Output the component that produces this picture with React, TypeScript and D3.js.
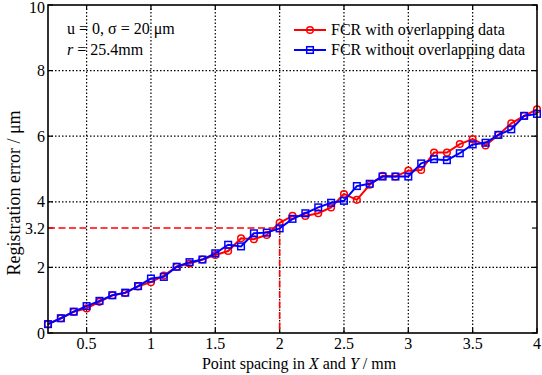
import React from "react";
import * as d3 from "d3";

const xValues = [0.2,0.3,0.4,0.5,0.6,0.7,0.8,0.9,1.0,1.1,1.2,1.3,1.4,1.5,1.6,1.7,1.8,1.9,2.0,2.1,2.2,2.3,2.4,2.5,2.6,2.7,2.8,2.9,3.0,3.1,3.2,3.3,3.4,3.5,3.6,3.7,3.8,3.9,4.0];
const redValues = [0.27,0.45,0.65,0.75,0.95,1.15,1.22,1.42,1.55,1.75,2.02,2.12,2.24,2.38,2.5,2.89,2.86,2.99,3.36,3.57,3.57,3.65,3.83,4.24,4.06,4.52,4.79,4.77,4.95,4.97,5.5,5.5,5.76,5.91,5.72,6.04,6.39,6.62,6.82];
const blueValues = [0.27,0.45,0.65,0.82,0.98,1.15,1.23,1.43,1.66,1.71,2.02,2.16,2.24,2.43,2.69,2.64,3.04,3.06,3.19,3.48,3.65,3.83,3.97,4.03,4.48,4.55,4.77,4.77,4.77,5.17,5.3,5.27,5.48,5.75,5.8,6.04,6.21,6.62,6.68];
const xTicks = [0.5,1,1.5,2,2.5,3,3.5,4];
const yTicks = [0,2,3.2,4,6,8,10];
const yGrid = [2,4,6,8];
const xGrid = [0.5,1,1.5,2,2.5,3,3.5];
const markX = 2;
const markY = 3.2;
const legendLabels = ["FCR with overlapping data", "FCR without overlapping data"];

const W = 542, H = 375;
const L = 48, R = 537, T = 5, B = 333;
const FONT = "'Liberation Serif', 'Times New Roman', serif";
const FS = 16;

export default function App() {
  const x = d3.scaleLinear().domain([0.2, 4]).range([L, R]);
  const y = d3.scaleLinear().domain([0, 10]).range([B, T]);
  const line = d3.line<number>().x((_, i) => x(xValues[i])).y(d => y(d));
  const red = "#ff0000", blue = "#0000ff";
  return (
    <svg width={W} height={H} style={{ position: "absolute", left: 0, top: 0, background: "#fff" }} fontFamily={FONT}>
      <rect x={0} y={0} width={W} height={H} fill="#fff" />
      {xGrid.map(v => (
        <line key={"xg" + v} x1={x(v)} x2={x(v)} y1={T} y2={B} stroke="#000" strokeWidth={1.2} strokeDasharray="1.5,2" />
      ))}
      {yGrid.map(v => (
        <line key={"yg" + v} x1={L} x2={R} y1={y(v)} y2={y(v)} stroke="#000" strokeWidth={1.2} strokeDasharray="1.5,2" />
      ))}
      {xTicks.map(v => (
        <g key={"xt" + v}>
          <line x1={x(v)} x2={x(v)} y1={B} y2={B - 5} stroke="#000" strokeWidth={1.2} />
          <line x1={x(v)} x2={x(v)} y1={T} y2={T + 5} stroke="#000" strokeWidth={1.2} />
          <text x={x(v)} y={B + 16} fontSize={FS} textAnchor="middle">{String(v)}</text>
        </g>
      ))}
      {yTicks.map(v => (
        <g key={"yt" + v}>
          <line x1={L} x2={L + 5} y1={y(v)} y2={y(v)} stroke="#000" strokeWidth={1.2} />
          <line x1={R} x2={R - 5} y1={y(v)} y2={y(v)} stroke="#000" strokeWidth={1.2} />
          <text x={L - 3} y={Math.max(y(v) + 5.5, 13)} fontSize={FS} textAnchor="end">{String(v)}</text>
        </g>
      ))}
      <line x1={L} x2={x(markX)} y1={y(markY)} y2={y(markY)} stroke={red} strokeWidth={1.6} strokeDasharray="7,3.5" />
      <line x1={x(markX)} x2={x(markX)} y1={y(markY)} y2={B} stroke={red} strokeWidth={1.6} strokeDasharray="7,3.5" />
      <path d={line(redValues) || ""} fill="none" stroke={red} strokeWidth={2} />
      {redValues.map((v, i) => (
        <circle key={"rc" + i} cx={x(xValues[i])} cy={y(v)} r={3.3} fill="none" stroke={red} strokeWidth={1.5} />
      ))}
      <path d={line(blueValues) || ""} fill="none" stroke={blue} strokeWidth={2} />
      {blueValues.map((v, i) => (
        <rect key={"bs" + i} x={x(xValues[i]) - 3.3} y={y(v) - 3.3} width={6.6} height={6.6} fill="none" stroke={blue} strokeWidth={1.5} />
      ))}
      <rect x={L} y={T} width={R - L} height={B - T} fill="none" stroke="#000" strokeWidth={1.6} />
      <text x={67} y={34} fontSize={FS}>u = 0, σ = 20 μm</text>
      <text x={67} y={55} fontSize={FS}><tspan fontStyle="italic">r</tspan> = 25.4mm</text>
      {legendLabels.map((lab, i) => {
        const ly = 30 + i * 20;
        const c = i === 0 ? red : blue;
        return (
          <g key={"lg" + i}>
            <line x1={294} x2={326} y1={ly} y2={ly} stroke={c} strokeWidth={2} />
            {i === 0 ? (
              <circle cx={310} cy={ly} r={3.3} fill="none" stroke={c} strokeWidth={1.5} />
            ) : (
              <rect x={306.7} y={ly - 3.3} width={6.6} height={6.6} fill="none" stroke={c} strokeWidth={1.5} />
            )}
            <text x={331} y={ly + 5} fontSize={FS}>{lab}</text>
          </g>
        );
      })}
      <text x={299} y={369} fontSize={FS} textAnchor="middle">
        Point spacing in <tspan fontStyle="italic">X</tspan> and <tspan fontStyle="italic">Y</tspan> / mm
      </text>
      <text transform={`translate(20, 193) rotate(-90)`} fontSize={18} textAnchor="middle">Registration error / μm</text>
    </svg>
  );
}
